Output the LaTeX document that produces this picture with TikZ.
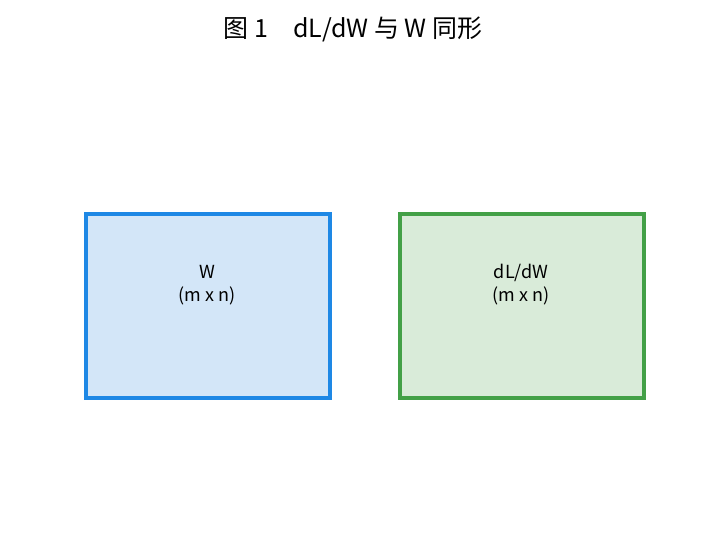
\documentclass[tikz,border=0pt]{standalone}
\usepackage{fontspec}
\setmainfont{Noto Sans CJK SC}
\begin{document}
\begin{tikzpicture}[x=1pt,y=-1pt,
  box/.style={draw,line width=3.5pt,minimum width=244pt,minimum height=184pt,anchor=north west,align=center,inner sep=0pt},
  lbl/.style={align=center,font=\fontsize{18}{23}\selectfont}]
\useasboundingbox (0,0) rectangle (727,552);
\definecolor{bb}{HTML}{1E88E5}\definecolor{bf}{HTML}{D3E6F8}
\definecolor{gb}{HTML}{43A047}\definecolor{gf}{HTML}{D9EBD9}
\node[font=\fontsize{25}{30}\selectfont] (title) at (353,29) {图 1\quad dL/dW 与 W 同形};
\node[box,draw=bb,fill=bf] (w) at (84,212) {};
\node[box,draw=gb,fill=gf] (dw) at (398,212) {};
\node[lbl] (wl) at (207,285) {W\\(m x n)};
\node[lbl] (dwl) at (521,285) {dL/dW\\(m x n)};
\end{tikzpicture}
\end{document}
